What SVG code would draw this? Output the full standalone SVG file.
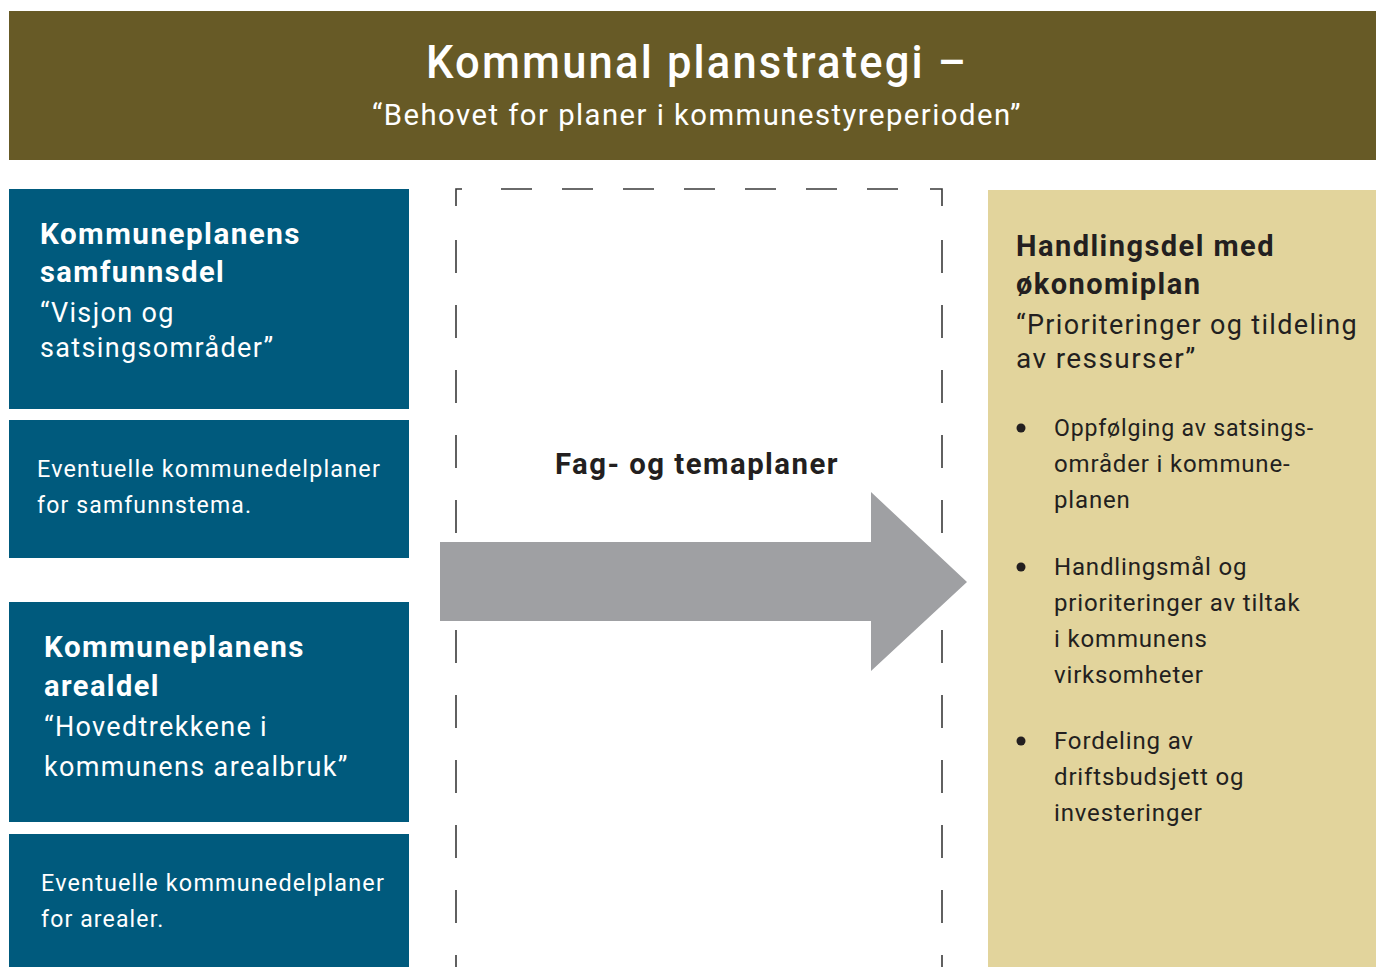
<svg xmlns="http://www.w3.org/2000/svg" width="1376" height="967" viewBox="0 0 1376 967">
<style>
.t{font-family:Roboto,"Liberation Sans",sans-serif;letter-spacing:0.05em;}
.s{letter-spacing:0.035em;}
.w{fill:#ffffff;}
.d{fill:#231f20;}
.b{font-weight:bold;}
.blue{fill:#005a7d;}
.dash{fill:none;stroke:#3a3a3a;stroke-width:1.6;}
</style>
<rect width="1376" height="967" fill="#ffffff"/>
<g id="header">
<rect x="9" y="11" width="1367" height="149" fill="#675a26"/>
<text class="t w" x="697" y="78" font-size="46" font-weight="500" text-anchor="middle" textLength="542" lengthAdjust="spacingAndGlyphs">Kommunal planstrategi –</text>
<text class="t w" x="697" y="125" font-size="30" text-anchor="middle" textLength="650" lengthAdjust="spacingAndGlyphs">“Behovet for planer i kommunestyreperioden”</text>
</g>
<g id="samfunnsdel">
<rect class="blue" x="9" y="189" width="400" height="220"/>
<text class="t w b" x="40" y="244" font-size="29" textLength="261" lengthAdjust="spacingAndGlyphs">Kommuneplanens</text>
<text class="t w b" x="40" y="282" font-size="29">samfunnsdel</text>
<text class="t w" x="40" y="322" font-size="27">“Visjon og</text>
<text class="t w" x="40" y="357" font-size="27">satsingsområder”</text>
</g>
<g id="kdp-samfunn">
<rect class="blue" x="9" y="420" width="400" height="138"/>
<text class="t w" x="37" y="477" font-size="23" textLength="344" lengthAdjust="spacingAndGlyphs">Eventuelle kommunedelplaner</text>
<text class="t w" x="37" y="513" font-size="23">for samfunnstema.</text>
</g>
<g id="arealdel">
<rect class="blue" x="9" y="602" width="400" height="220"/>
<text class="t w b" x="44" y="657" font-size="29" textLength="261" lengthAdjust="spacingAndGlyphs">Kommuneplanens</text>
<text class="t w b" x="44" y="696" font-size="29">arealdel</text>
<text class="t w" x="44" y="736" font-size="27">“Hovedtrekkene i</text>
<text class="t w" x="44" y="776" font-size="27">kommunens arealbruk”</text>
</g>
<g id="kdp-areal">
<rect class="blue" x="9" y="834" width="400" height="133"/>
<text class="t w" x="41" y="891" font-size="23" textLength="344" lengthAdjust="spacingAndGlyphs">Eventuelle kommunedelplaner</text>
<text class="t w" x="41" y="927" font-size="23">for arealer.</text>
</g>
<g id="handlingsdel">
<rect x="988" y="190" width="388" height="777" fill="#e2d49c"/>
<text class="t d b" x="1016" y="256" font-size="29" textLength="259" lengthAdjust="spacingAndGlyphs">Handlingsdel med</text>
<text class="t d b" x="1016" y="294" font-size="29">økonomiplan</text>
<text class="t d" x="1016" y="334" font-size="28" textLength="342" lengthAdjust="spacingAndGlyphs">“Prioriteringer og tildeling</text>
<text class="t d" x="1016" y="368" font-size="28">av ressurser”</text>
<circle class="d" cx="1021" cy="428" r="4.5"/>
<text class="t s d" x="1054" y="436" font-size="24" textLength="260" lengthAdjust="spacingAndGlyphs">Oppfølging av satsings-</text>
<text class="t s d" x="1054" y="472" font-size="24">områder i kommune-</text>
<text class="t s d" x="1054" y="508" font-size="24">planen</text>
<circle class="d" cx="1021" cy="567" r="4.5"/>
<text class="t s d" x="1054" y="575" font-size="24">Handlingsmål og</text>
<text class="t s d" x="1054" y="611" font-size="24">prioriteringer av tiltak</text>
<text class="t s d" x="1054" y="647" font-size="24">i kommunens</text>
<text class="t s d" x="1054" y="683" font-size="24">virksomheter</text>
<circle class="d" cx="1021" cy="741" r="4.5"/>
<text class="t s d" x="1054" y="749" font-size="24">Fordeling av</text>
<text class="t s d" x="1054" y="785" font-size="24">driftsbudsjett og</text>
<text class="t s d" x="1054" y="821" font-size="24">investeringer</text>
</g>
<g id="fagplaner">
<path class="dash" d="M456 206 V189 H462 M501 189 H532 M562 189 H593 M623 189 H654 M684 189 H715 M745 189 H776 M806 189 H837 M867 189 H898 M930 189 H942 V206"/>
<path class="dash" d="M456 240 V967 M942 240 V967" stroke-dasharray="33 32"/>
<text class="t d b" x="697" y="474" font-size="30" text-anchor="middle" textLength="284" lengthAdjust="spacingAndGlyphs">Fag- og temaplaner</text>
</g>
<g id="connectors">
<polygon points="440,542 871,542 871,492 967,582 871,671 871,621 440,621" fill="#9fa0a3"/>
</g>
</svg>
